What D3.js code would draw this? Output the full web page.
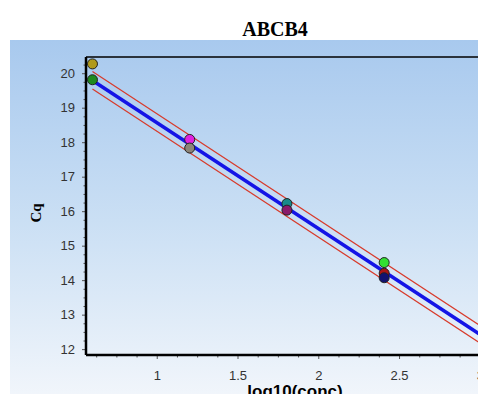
<!DOCTYPE html>
<html><head><meta charset="utf-8">
<script src="https://cdn.jsdelivr.net/npm/d3@7"></script>
<style>html,body{margin:0;padding:0;background:#fff;}svg{display:block;}</style>
</head><body>
<svg id="chart" width="478" height="394"></svg>
<script>
// ---- data ----
const chartTitle = "ABCB4";
const xLabel = "log10(conc)";
const yLabel = "Cq";
const logConc = [0.602, 0.602, 1.204, 1.204, 1.806, 1.806, 2.408, 2.408, 2.408];
const cqValues = [20.27, 19.81, 18.08, 17.83, 16.22, 16.03, 14.51, 14.20, 14.07];
const pointColors = ["#b09a1c", "#1f8a1f", "#e020e0", "#8c8478", "#188a8a", "#8a1a6a", "#33e033", "#a81414", "#121270"];
const fitX = [0.602, 3.156];
const fitCq = [19.79, 11.95];
const bandUpper = [20.05, 12.21];
const bandLower = [19.54, 11.70];
const xTicks = [1, 1.5, 2, 2.5, 3];
const yTicks = [12, 13, 14, 15, 16, 17, 18, 19, 20];

// ---- layout ----
(function () {
const svg = d3.select("#chart");
const mLeft = 86, mRight = 505, mTop = 57, mBottom = 355;
const x = d3.scaleLinear().domain([0.562, 3.156]).range([mLeft, mRight]);
const y = d3.scaleLinear().domain([11.83, 20.47]).range([mBottom, mTop]);

const defs = svg.append("defs");
const grad = defs.append("linearGradient").attr("id", "bg").attr("x1", 0).attr("y1", 0).attr("x2", 0).attr("y2", 1);
grad.append("stop").attr("offset", "0%").attr("stop-color", "#a8c9ee");
grad.append("stop").attr("offset", "50%").attr("stop-color", "#cadff4");
grad.append("stop").attr("offset", "100%").attr("stop-color", "#f2f6fb");

svg.append("rect").attr("x", 10).attr("y", 40).attr("width", 478).attr("height", 360).attr("fill", "url(#bg)");

svg.append("text").attr("x", 275).attr("y", 36).attr("text-anchor", "middle")
  .attr("font-family", "Liberation Serif, Times New Roman, serif").attr("font-weight", "bold")
  .attr("font-size", 20).attr("fill", "#000").text(chartTitle);

// axes
const minorX = d3.range(0.625, 3.2, 0.125).filter(v => !xTicks.some(t => Math.abs(t - v) < 1e-6));
const minorY = d3.range(12, 20.5, 0.25).filter(v => !yTicks.some(t => Math.abs(t - v) < 1e-6));

const gx = svg.append("g").attr("transform", `translate(0,${mBottom})`)
  .call(d3.axisBottom(x).tickValues(xTicks).tickSize(4).tickPadding(12).tickFormat(d3.format("")));
const gxm = svg.append("g").attr("transform", `translate(0,${mBottom})`)
  .call(d3.axisBottom(x).tickValues(minorX).tickSize(2.5).tickFormat(""));
const gy = svg.append("g").attr("transform", `translate(${mLeft},0)`)
  .call(d3.axisLeft(y).tickValues(yTicks).tickSize(4).tickPadding(7));
const gym = svg.append("g").attr("transform", `translate(${mLeft},0)`)
  .call(d3.axisLeft(y).tickValues(minorY).tickSize(2.5).tickFormat(""));
[gx, gxm, gy, gym].forEach(g => {
  g.select(".domain").remove();
  g.selectAll(".tick line").attr("stroke", "#555");
  g.selectAll("text").attr("font-family", "Liberation Sans, Arial, sans-serif").attr("font-size", 13).attr("fill", "#333");
});

// frame
svg.append("line").attr("x1", mLeft).attr("x2", mRight).attr("y1", mTop).attr("y2", mTop).attr("stroke", "#000").attr("stroke-width", 1.5);
svg.append("line").attr("x1", mLeft).attr("x2", mLeft).attr("y1", mTop).attr("y2", mBottom).attr("stroke", "#000").attr("stroke-width", 2.5);
svg.append("line").attr("x1", mLeft).attr("x2", mRight).attr("y1", mBottom).attr("y2", mBottom).attr("stroke", "#000").attr("stroke-width", 2.5);

// axis titles
svg.append("text").attr("transform", `translate(41,213) rotate(-90)`).attr("text-anchor", "middle")
  .attr("font-family", "Liberation Serif, Times New Roman, serif").attr("font-weight", "bold")
  .attr("font-size", 15).attr("fill", "#000").text(yLabel);
svg.append("text").attr("x", 295).attr("y", 397).attr("text-anchor", "middle")
  .attr("font-family", "Liberation Sans, Arial, sans-serif").attr("font-weight", "bold")
  .attr("font-size", 17).attr("fill", "#000").text(xLabel);

// lines
const plot = svg.append("g");
const line = d3.line().x(d => x(d[0])).y(d => y(d[1]));
plot.append("path").datum(d3.zip(fitX, bandUpper)).attr("d", line).attr("fill", "none").attr("stroke", "#d83a2a").attr("stroke-width", 1.2);
plot.append("path").datum(d3.zip(fitX, bandLower)).attr("d", line).attr("fill", "none").attr("stroke", "#d83a2a").attr("stroke-width", 1.2);
plot.append("path").datum(d3.zip(fitX, fitCq)).attr("d", line).attr("fill", "none").attr("stroke", "#1414e6").attr("stroke-width", 3.5);

// points
plot.selectAll("circle.pt").data(d3.range(logConc.length)).enter().append("circle").attr("class", "pt")
  .attr("cx", i => x(logConc[i])).attr("cy", i => y(cqValues[i])).attr("r", 5)
  .attr("fill", i => pointColors[i]).attr("stroke", "#222").attr("stroke-width", 1);
})();
</script>
</body></html>
